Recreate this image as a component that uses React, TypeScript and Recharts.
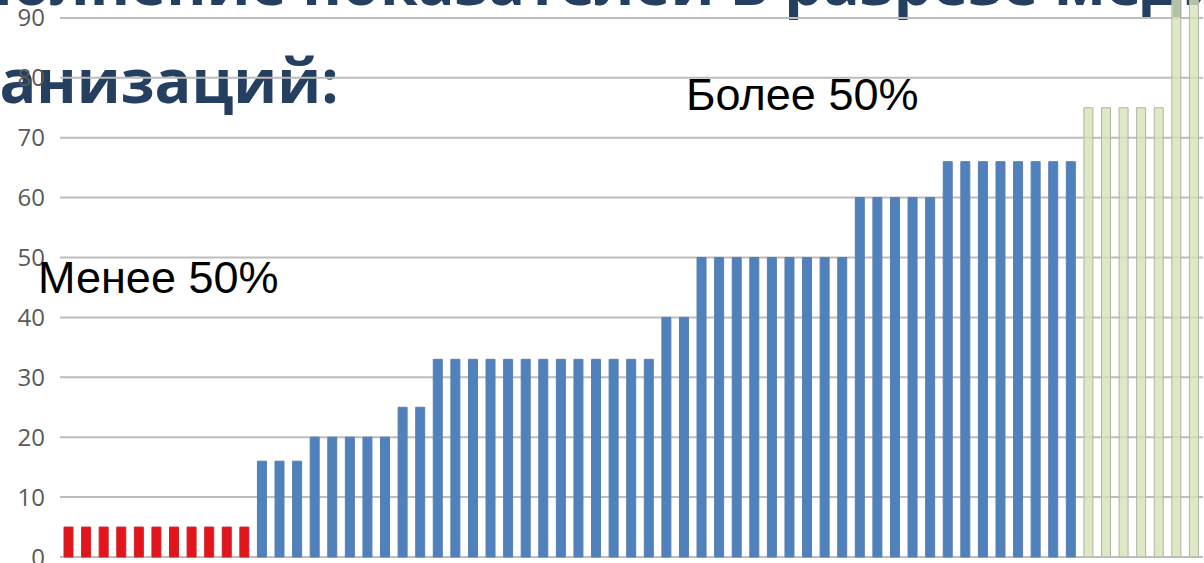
import { BarChart, Bar, XAxis, YAxis, CartesianGrid, Cell } from "recharts";

// Выполнение показателей по медицинским организациям (%)
const lowValues = [5, 5, 5, 5, 5, 5, 5, 5, 5, 5, 5];
const midValues = [
  16, 16, 16, 20, 20, 20, 20, 20, 25, 25,
  33, 33, 33, 33, 33, 33, 33, 33, 33, 33, 33, 33, 33,
  40, 40,
  50, 50, 50, 50, 50, 50, 50, 50, 50,
  60, 60, 60, 60, 60,
  66, 66, 66, 66, 66, 66, 66, 66,
];
const highValues = [75, 75, 75, 75, 75, 100, 100];
const yTicks = [0, 10, 20, 30, 40, 50, 60, 70, 80, 90, 100];

const groupStyle = {
  low: { fill: "#e3141b", stroke: "#c8262b", opacity: 1 },
  mid: { fill: "#4f81bd", stroke: "#5a7fae", opacity: 1 },
  high: { fill: "#d5e3b8", stroke: "#b0b3a5", opacity: 0.8 },
};

const data = [
  ...lowValues.map((v) => ({ value: v, group: "low" as const })),
  ...midValues.map((v) => ({ value: v, group: "mid" as const })),
  ...highValues.map((v) => ({ value: v, group: "high" as const })),
].map((d, i) => ({ ...d, org: `МО ${i + 1}` }));

const noteStyle = {
  position: "absolute" as const,
  fontFamily: "'Liberation Sans', Arial, sans-serif",
  fontSize: 45,
  lineHeight: "45px",
  color: "#000",
  whiteSpace: "nowrap" as const,
};

export default function App() {
  return (
    <div
      style={{
        position: "fixed",
        top: 0,
        left: 0,
        width: 1204,
        height: 563,
        overflow: "hidden",
        background: "#fff",
      }}
    >
      <div
        style={{
          position: "absolute",
          top: -67,
          left: -120,
          whiteSpace: "nowrap",
          fontFamily: "'Open Sans', sans-serif",
          fontWeight: 700,
          fontSize: 61,
          lineHeight: "98px",
          color: "#243f60",
        }}
      >
        <div>Выполнение показателей в разрезе медицинских</div>
        <div style={{ paddingLeft: 14 }}>организаций:</div>
      </div>

      <div style={{ position: "absolute", top: -62, left: 0 }}>
        <BarChart
          width={1204}
          height={639}
          data={data}
          margin={{ top: 20, right: 1, bottom: 10, left: 0 }}
          barSize={9}
        >
          <CartesianGrid vertical={false} stroke="#bdbdbd" strokeWidth={2} />
          <XAxis dataKey="org" tick={false} tickLine={false} axisLine={false} height={10} />
          <YAxis
            domain={[0, 100]}
            ticks={yTicks}
            width={60}
            axisLine={false}
            tickLine={false}
            tickSize={0}
            tickMargin={15}
            tick={{ fill: "#595959", fontSize: 24, fontFamily: "'Open Sans', sans-serif" }}
          />
          <Bar dataKey="value" isAnimationActive={false}>
            {data.map((d) => (
              <Cell
                key={d.org}
                fill={groupStyle[d.group].fill}
                fillOpacity={groupStyle[d.group].opacity}
                stroke={groupStyle[d.group].stroke}
                strokeWidth={1}
              />
            ))}
          </Bar>
        </BarChart>
      </div>

      <div style={{ ...noteStyle, top: 255, left: 38 }}>Менее 50%</div>
      <div style={{ ...noteStyle, top: 72, left: 686 }}>Более 50%</div>
    </div>
  );
}
